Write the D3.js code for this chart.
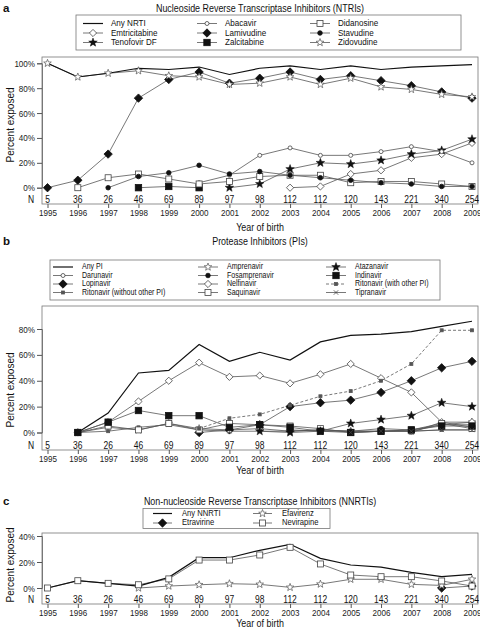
<!DOCTYPE html>
<html><head><meta charset="utf-8">
<script src="https://cdn.jsdelivr.net/npm/d3@7"></script>
<style>body{margin:0;background:#fff}svg{display:block}text{font-family:"Liberation Sans",Arial,Helvetica,sans-serif}</style>
</head><body><svg id="c" width="480" height="630"></svg>
<script>
// ---- shared
const years = [1995,1996,1997,1998,1999,2000,2001,2002,2003,2004,2005,2006,2007,2008,2009];
const yearLabels = ["1995","1996","1997","1998","1999","2000","2001","2002","2003","2004","2005","2006","2007","2008","2009"];
const nCounts = [5,36,26,46,69,89,97,98,112,112,120,143,221,340,254];

// ---- panel a (NRTIs)
const anyNRTI      = [100,89,92,96,95,97,91,96,98,95,98,95,97,98,99];
const abacavir     = [null,null,null,null,null,4,10,26,32,26,26,29,33,29,20];
const didanosine   = [null,0,8,11,7,3,5,9,10,10,4,5,5,3,1];
const emtricitabine= [null,null,null,null,null,null,null,null,0,1,11,14,24,27,36];
const lamivudine   = [0,6,27,72,87,93,84,88,93,87,90,86,82,77,72];
const stavudine    = [null,null,0,9,12,18,11,13,10,8,6,4,3,1,1];
const tenofovir    = [null,null,null,null,null,null,0,3,15,20,19,22,27,30,39];
const zalcitabine  = [null,null,null,0,1,0,null,null,null,null,null,null,null,null,null];
const zidovudine   = [100,89,92,94,90,89,83,84,89,83,88,81,79,75,73];
const ticksA = [0,20,40,60,80,100];

// ---- panel b (PIs)
const anyPI        = [null,0,15,46,48,68,55,62,56,70,75,76,78,82,86];
const amprenavir   = [null,0,4,2,7,3,2,3,1,2,1,1,1,6,8];
const atazanavir   = [null,null,null,null,null,null,null,1,0,1,7,10,13,23,20];
const darunavir    = [null,null,null,null,null,null,null,null,null,null,null,null,0,8,4];
const fosamprenavir= [null,null,null,null,null,null,null,null,2,1,1,3,2,6,6];
const indinavir    = [null,0,8,17,13,13,4,6,4,1,0,1,2,5,5];
const lopinavir    = [null,null,null,null,null,0,2,6,20,23,25,31,40,50,55];
const nelfinavir   = [null,0,8,24,40,54,43,44,38,45,53,42,31,8,8];
const ritonavirWith= [null,null,null,null,null,3,11,14,21,28,32,40,53,79,79];
const ritonavirWithout=[null,0,1,4,6,2,1,1,1,2,1,1,1,2,2];
const saquinavir   = [null,0,5,2,7,2,7,6,5,3,0,1,2,7,3];
const tipranavir   = [null,null,null,null,null,null,null,null,null,null,0,1,1,2,2];
const ticksB = [0,20,40,60,80];

// ---- panel c (NNRTIs)
const anyNNRTI     = [0,5.6,3.6,1.5,8.2,23.3,23.3,29,33.6,22.8,17.7,16,12,8.7,10.5];
const efavirenz    = [null,null,null,0,1.5,2.5,3.3,2.8,0.5,3,6.7,6.7,2.8,2,6.7];
const etravirine   = [null,null,null,null,null,null,null,null,null,null,null,null,null,0,1.5];
const nevirapine   = [0,5.6,3.6,2.5,7,21.5,21.5,25.4,31.3,18.5,10,8.7,8.7,5.4,1.5];
const ticksC = [0,20,40];

const svg = d3.select("#c");
const SX = 0.85; // horizontal condensing of the Helvetica-like text
const x = d3.scaleLinear().domain([years[0], years[years.length-1]]).range([47.5, 472]);

function T(g, tx, ty, str, size, anchor, opts){
  opts = opts||{};
  return g.append("text").attr("transform",`translate(${tx},${ty}) scale(${opts.sx||SX},1)`)
    .attr("font-size",size).attr("text-anchor",anchor||"start")
    .attr("dominant-baseline", opts.baseline||"middle")
    .attr("font-weight", opts.bold?"bold":null).attr("fill","#111").text(str);
}

function starPath(r){
  const pts=[];
  for(let i=0;i<10;i++){
    const a = -Math.PI/2 + i*Math.PI/5;
    const rr = i%2===0 ? r : r*0.42;
    pts.push([rr*Math.cos(a), rr*Math.sin(a)]);
  }
  return "M"+pts.map(p=>p[0].toFixed(2)+","+p[1].toFixed(2)).join("L")+"Z";
}
function drawMarker(g, m, cx, cy){
  if(!m) return;
  const col = m.color || "#222";
  const t = `translate(${cx},${cy})`;
  if(m.type==="circle"){
    g.append("circle").attr("cx",cx).attr("cy",cy).attr("r",m.r)
      .attr("fill", m.filled? col : "#fff").attr("stroke",col).attr("stroke-width",0.8);
  } else if(m.type==="square"){
    g.append("rect").attr("x",cx-m.r).attr("y",cy-m.r).attr("width",2*m.r).attr("height",2*m.r)
      .attr("fill", m.filled? col : "#fff").attr("stroke",col).attr("stroke-width",0.8);
  } else if(m.type==="diamond"){
    const r=m.r;
    g.append("path").attr("transform",t).attr("d",`M0,${-r}L${r},0L0,${r}L${-r},0Z`)
      .attr("fill", m.filled? col : "#fff").attr("stroke",col).attr("stroke-width",0.8);
  } else if(m.type==="star"){
    g.append("path").attr("transform",t).attr("d",starPath(m.r))
      .attr("fill", m.filled? col : "#fff").attr("stroke",col).attr("stroke-width",m.filled?0.5:0.7);
  } else if(m.type==="x"){
    const r=m.r;
    g.append("path").attr("transform",t).attr("d",`M${-r},${-r}L${r},${r}M${-r},${r}L${r},${-r}`)
      .attr("fill","none").attr("stroke",col).attr("stroke-width",0.8);
  }
}

function drawPanel(p){
  const g = svg.append("g");
  const y = d3.scaleLinear().domain([0, p.yMax]).range([p.y0pix, p.yMaxPix]);
  T(g, 3, p.titleY, p.letter, 11.5, "start", {bold:true, sx:1});
  T(g, 260, p.titleY, p.title, 10.5, "middle");
  // legend
  const L = p.legend;
  g.append("rect").attr("x",L.x0).attr("y",L.y0).attr("width",L.x1-L.x0).attr("height",L.y1-L.y0)
    .attr("fill","#fff").attr("stroke","#777").attr("stroke-width",0.8);
  p.series.forEach((s,i)=>{
    const col = Math.floor(i / L.rows), row = i % L.rows;
    const lx = L.cols[col], ly = L.rowY[row];
    g.append("line").attr("x1",lx).attr("x2",lx+L.len).attr("y1",ly).attr("y2",ly)
      .attr("stroke", s.any? "#111":"#555").attr("stroke-width", s.any?1.2:0.8)
      .attr("stroke-dasharray", s.dash||null);
    drawMarker(g, s.marker, lx+L.len/2, ly);
    T(g, lx+L.len+L.gap, ly, s.name, L.fs, "start");
  });
  // box
  g.append("rect").attr("x",42).attr("y",p.boxTop).attr("width",478-42).attr("height",p.boxBottom-p.boxTop)
    .attr("fill","none").attr("stroke","#777").attr("stroke-width",0.8);
  // y axis
  const ya = g.append("g").attr("transform","translate(42,0)")
    .call(d3.axisLeft(y).tickValues(p.ticks).tickFormat(d=>d+"%").tickSize(5).tickPadding(2));
  ya.select(".domain").attr("stroke","#777");
  ya.selectAll(".tick line").attr("stroke","#555");
  ya.selectAll("text").attr("font-size",9.5).attr("fill","#222")
    .attr("x",-7/SX).attr("transform",`scale(${SX},1)`);
  // x axis
  const xa = g.append("g").attr("transform",`translate(0,${p.boxBottom})`)
    .call(d3.axisBottom(x).tickValues(years).tickFormat((d,i)=>yearLabels[i]).tickSize(4).tickPadding(1.5));
  xa.select(".domain").remove();
  xa.selectAll(".tick line").attr("stroke","#555");
  xa.selectAll("text").attr("font-size",9.5).attr("fill","#222").attr("transform",`scale(${SX},1)`);
  // N row
  T(g, 31, p.boxBottom-1.2, "N", 10, "middle", {baseline:"auto"});
  nCounts.forEach((d,i)=> T(g, x(years[i]), p.boxBottom-1.2, String(d), 10, "middle", {baseline:"auto"}));
  // axis titles
  T(g, 260, p.xlabY, "Year of birth", 10.5, "middle", {baseline:"auto"});
  g.append("text").attr("transform",`translate(11,${p.ylabY}) rotate(-90)`).attr("font-size",10)
    .attr("text-anchor","middle").attr("dominant-baseline","middle").attr("fill","#111").text("Percent exposed");
  // series
  const line = d3.line().defined(d=>d[1]!=null).x(d=>x(d[0])).y(d=>y(d[1]));
  const order = p.series.slice().sort((a,b)=>(a.any?1:0)-(b.any?1:0));
  order.forEach(s=>{
    const pts = years.map((yr,i)=>[yr, s.values[i]]);
    g.append("path").attr("d",line(pts)).attr("fill","none")
      .attr("stroke", s.any? "#111":"#555").attr("stroke-width", s.any?1.2:0.8)
      .attr("stroke-dasharray", s.dash||null);
  });
  order.forEach(s=>{
    if(!s.marker) return;
    years.forEach((yr,i)=>{ if(s.values[i]!=null) drawMarker(g, s.marker, x(yr), y(s.values[i])); });
  });
}

const M = {
  smallOpenCircle:{type:"circle",r:2,filled:false,color:"#444"},
  smallFilledCircle:{type:"circle",r:2.3,filled:true,color:"#111"},
  openSquare:{type:"square",r:3,filled:false,color:"#444"},
  filledSquare:{type:"square",r:3.2,filled:true,color:"#111"},
  openDiamond:{type:"diamond",r:3.6,filled:false,color:"#444"},
  filledDiamond:{type:"diamond",r:4.2,filled:true,color:"#111"},
  openStar:{type:"star",r:4,filled:false,color:"#555"},
  filledStar:{type:"star",r:4.5,filled:true,color:"#111"},
  tinySquare:{type:"square",r:1.5,filled:true,color:"#555"},
  xMark:{type:"x",r:2.2,color:"#444"}
};

drawPanel({
  letter:"a", title:"Nucleoside Reverse Transcriptase Inhibitors (NTRIs)", titleY:9,
  yMax:100, y0pix:187.7, yMaxPix:63.3, ticks:ticksA, boxTop:57, boxBottom:204,
  xlabY:231, ylabY:125,
  legend:{x0:76,x1:461,y0:15,y1:50,rows:3,rowY:[23.5,33,42.5],cols:[83,197,310],len:20,gap:8,fs:9.5},
  series:[
    {name:"Any NRTI", values:anyNRTI, any:true},
    {name:"Emtricitabine", values:emtricitabine, marker:M.openDiamond},
    {name:"Tenofovir DF", values:tenofovir, marker:M.filledStar},
    {name:"Abacavir", values:abacavir, marker:M.smallOpenCircle},
    {name:"Lamivudine", values:lamivudine, marker:M.filledDiamond},
    {name:"Zalcitabine", values:zalcitabine, marker:M.filledSquare},
    {name:"Didanosine", values:didanosine, marker:M.openSquare},
    {name:"Stavudine", values:stavudine, marker:M.smallFilledCircle},
    {name:"Zidovudine", values:zidovudine, marker:M.openStar}
  ]
});

drawPanel({
  letter:"b", title:"Protease Inhibitors (PIs)", titleY:242,
  yMax:80, y0pix:432.5, yMaxPix:329, ticks:ticksB, boxTop:306, boxBottom:450,
  xlabY:474, ylabY:390,
  legend:{x0:50,x1:440,y0:260,y1:300,rows:4,rowY:[267,275.5,284,292.5],cols:[53,198,326],len:20,gap:9,fs:8.3},
  series:[
    {name:"Any PI", values:anyPI, any:true},
    {name:"Darunavir", values:darunavir, marker:M.smallOpenCircle},
    {name:"Lopinavir", values:lopinavir, marker:M.filledDiamond},
    {name:"Ritonavir (without other PI)", values:ritonavirWithout, marker:M.tinySquare},
    {name:"Amprenavir", values:amprenavir, marker:M.openStar},
    {name:"Fosamprenavir", values:fosamprenavir, marker:M.smallFilledCircle},
    {name:"Nelfinavir", values:nelfinavir, marker:M.openDiamond},
    {name:"Saquinavir", values:saquinavir, marker:M.openSquare},
    {name:"Atazanavir", values:atazanavir, marker:M.filledStar},
    {name:"Indinavir", values:indinavir, marker:M.filledSquare},
    {name:"Ritonavir (with other PI)", values:ritonavirWith, marker:M.tinySquare, dash:"3,2"},
    {name:"Tipranavir", values:tipranavir, marker:M.xMark}
  ]
});

drawPanel({
  letter:"c", title:"Non-nucleoside Reverse Transcriptase Inhibitors (NNRTIs)", titleY:502,
  yMax:40, y0pix:588, yMaxPix:536, ticks:ticksC, boxTop:533, boxBottom:604,
  xlabY:627, ylabY:565,
  legend:{x0:143,x1:330,y0:508.5,y1:528.5,rows:2,rowY:[513.5,523],cols:[153,253],len:19,gap:10,fs:9},
  series:[
    {name:"Any NNRTI", values:anyNNRTI, any:true},
    {name:"Etravirine", values:etravirine, marker:M.filledDiamond},
    {name:"Efavirenz", values:efavirenz, marker:M.openStar},
    {name:"Nevirapine", values:nevirapine, marker:M.openSquare}
  ]
});
</script></body></html>
